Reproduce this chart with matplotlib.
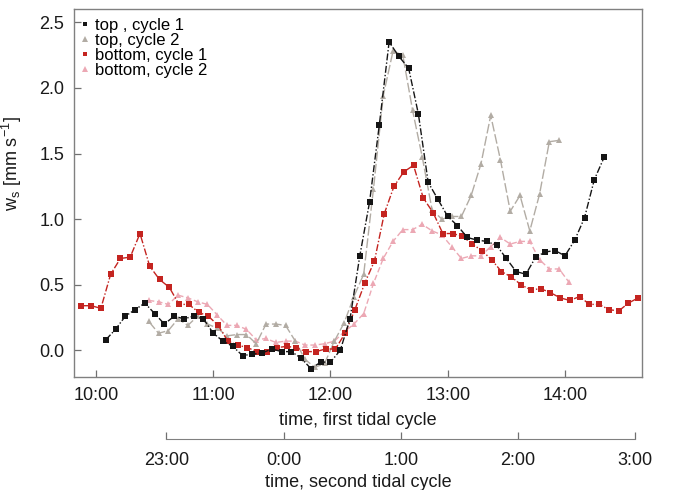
import matplotlib
matplotlib.use("Agg")
import matplotlib.pyplot as plt
from matplotlib.lines import Line2D
from matplotlib.ticker import FuncFormatter
import numpy as np
import pandas as pd

# settling velocity w_s [mm/s], sampled every 5 minutes
# first tidal cycle (clock time of first sample)
top_c1_start = "10:05"
top_c1 = [0.08, 0.16, 0.26, 0.31, 0.36, 0.28, 0.20, 0.26, 0.24, 0.26,
          0.24, 0.13, 0.07, 0.03, -0.04, -0.03, -0.02, 0.01, -0.01, -0.01,
          -0.06, -0.14, -0.09, -0.09, 0.00, 0.24, 0.72, 1.13, 1.72, 2.35,
          2.24, 2.15, 1.80, 1.28, 1.15, 1.02, 0.95, 0.86, 0.84, 0.83,
          0.80, 0.70, 0.60, 0.58, 0.71, 0.75, 0.76, 0.72, 0.84, 1.01,
          1.30, 1.47]

bottom_c1_start = "09:52:30"
bottom_c1 = [0.34, 0.34, 0.32, 0.58, 0.70, 0.71, 0.89, 0.64, 0.54, 0.48,
             0.35, 0.35, 0.29, 0.26, 0.19, 0.07, 0.04, 0.02, -0.01, -0.01,
             0.02, 0.03, 0.02, -0.01, -0.01, 0.01, 0.01, 0.13, 0.31, 0.51,
             0.68, 1.04, 1.25, 1.36, 1.41, 1.16, 1.05, 0.89, 0.89, 0.87,
             0.81, 0.76, 0.69, 0.60, 0.56, 0.50, 0.46, 0.47, 0.44, 0.40,
             0.38, 0.41, 0.35, 0.35, 0.31, 0.30, 0.36, 0.40]

# second tidal cycle (clock time of first sample, runs past midnight)
top_c2_start = "22:51"
top_c2 = [0.22, 0.13, 0.15, 0.24, 0.19, 0.26, 0.20, 0.17, 0.11, 0.12,
          0.12, 0.05, 0.20, 0.20, 0.19, 0.07, -0.07, -0.13, -0.10, 0.07,
          0.21, 0.41, 0.58, 1.23, 1.94, 2.28, 2.25, 1.83, 1.47, 1.07,
          1.00, 1.02, 1.02, 1.18, 1.42, 1.79, 1.45, 1.06, 1.18, 0.91,
          1.19, 1.59, 1.60]

bottom_c2_start = "22:51"
bottom_c2 = [0.38, 0.37, 0.35, 0.42, 0.40, 0.37, 0.35, 0.27, 0.19, 0.19,
             0.16, 0.08, 0.09, 0.06, 0.07, 0.07, 0.04, 0.04, 0.05, 0.07,
             0.14, 0.20, 0.28, 0.51, 0.70, 0.83, 0.92, 0.92, 0.96, 0.91,
             0.88, 0.79, 0.70, 0.72, 0.72, 0.79, 0.86, 0.81, 0.83, 0.83,
             0.69, 0.62, 0.62, 0.52]

tidal_period = 12.4  # hours between the two cycles
cycle1_ticks = [10, 11, 12, 13, 14]
cycle2_ticks = [23, 24, 25, 26, 27]


def to_hours(start, n, shift=0.0):
    # hours since midnight of the first day, continuing past 24:00
    day0 = pd.Timestamp("2000-01-01")
    t = pd.date_range(day0 + pd.Timedelta(start + ":00" if start.count(":") == 1 else start),
                      periods=n, freq="5min")
    return np.asarray((t - day0) / pd.Timedelta(hours=1)) - shift


plt.rcParams["font.family"] = ["Liberation Sans", "DejaVu Sans"]
plt.rcParams["mathtext.default"] = "regular"

fig = plt.figure(figsize=(6.79, 4.90), dpi=100)
ax = fig.add_axes([0.109, 0.2306, 0.8365, 0.7504])

series = [
    ("top , cycle 1", to_hours(top_c1_start, len(top_c1)), top_c1,
     "#151515", "s", 3.9, (0, (5, 1.5, 1, 1.5))),
    ("top, cycle 2", to_hours(top_c2_start, len(top_c2), tidal_period), top_c2,
     "#b2aca4", "^", 4.7, (0, (7, 2))),
    ("bottom, cycle 1", to_hours(bottom_c1_start, len(bottom_c1)), bottom_c1,
     "#c42420", "s", 3.9, (0, (5, 1.5, 1, 1.5))),
    ("bottom, cycle 2", to_hours(bottom_c2_start, len(bottom_c2), tidal_period), bottom_c2,
     "#eca8b4", "^", 4.7, (0, (4, 2))),
]

# draw cycle 2 first so cycle 1 sits on top
for idx in [3, 1, 2, 0]:
    label, t, v, c, m, ms, ls = series[idx]
    ax.plot(t, v, color=c, linestyle=ls, linewidth=1.0,
            marker=m, markersize=ms, markeredgewidth=0, zorder=3 + (idx % 2 == 0))

handles = [Line2D([], [], color=c, marker=m, markersize=ms * 0.85, linestyle="none",
                  markeredgewidth=0)
           for _, _, _, c, m, ms, _ in series]
ax.legend(handles, [s[0] for s in series], loc="upper left",
          bbox_to_anchor=(-0.002, 1.0), frameon=False, fontsize=12,
          handlelength=0.5, handletextpad=0.35, labelspacing=0.0,
          borderaxespad=0.2, borderpad=0.3)

ax.set_xlim(9.8124, 14.657)
ax.set_ylim(-0.2035, 2.599)
ax.set_xticks(cycle1_ticks)
ax.set_xticklabels([f"{h}:00" for h in cycle1_ticks])
ax.set_yticks([0.0, 0.5, 1.0, 1.5, 2.0, 2.5])
ax.yaxis.set_major_formatter(FuncFormatter(lambda v, p: f"{v:.1f}"))
ax.tick_params(direction="in", length=5, width=0.9, color="#707070",
               labelsize=13, labelcolor="#1a1a1a", pad=7)
for sp in ax.spines.values():
    sp.set_color("#808080")
    sp.set_linewidth(1.0)
ax.set_xlabel("time, first tidal cycle", fontsize=13, color="#1a1a1a", labelpad=6)
ax.set_ylabel(r"w$_{s}$ [mm s$^{-1}$]", fontsize=13, color="#1a1a1a")
ax.yaxis.set_label_coords(-0.088, 0.58)

# second tidal cycle time axis
sec = ax.secondary_xaxis(-0.1694, functions=(lambda x: x + tidal_period,
                                             lambda x: x - tidal_period))
sec.set_xticks(cycle2_ticks)
sec.xaxis.set_major_formatter(FuncFormatter(lambda v, p: f"{int(round(v)) % 24}:00"))
sec.spines["bottom"].set_bounds(cycle2_ticks[0], cycle2_ticks[-1])
sec.spines["bottom"].set_color("#808080")
sec.tick_params(direction="in", length=5, width=0.9, color="#707070",
                labelsize=13, labelcolor="#1a1a1a", pad=9)
sec.set_xlabel("time, second tidal cycle", fontsize=13, color="#1a1a1a", labelpad=4)

fig.savefig("out.png", dpi=100)
